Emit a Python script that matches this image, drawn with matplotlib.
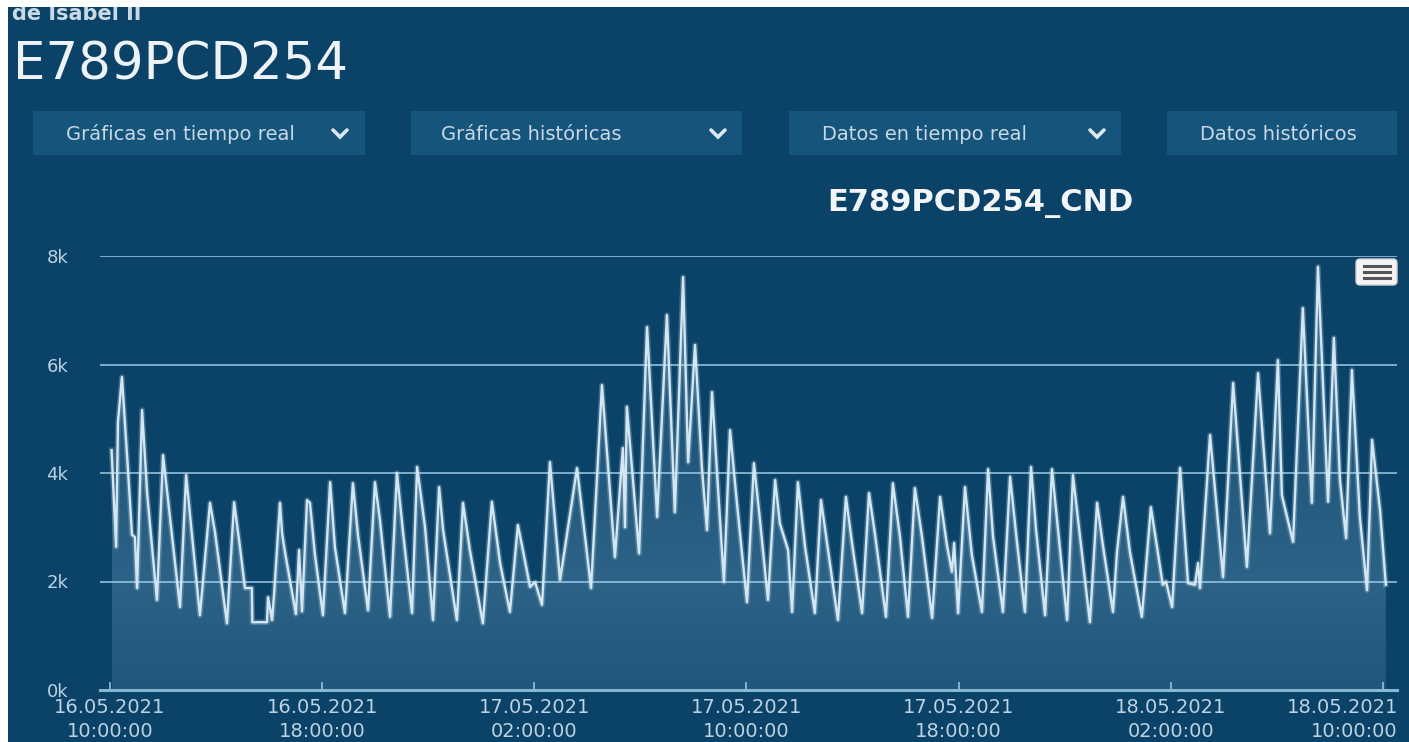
import numpy as np
import matplotlib
matplotlib.use("Agg")
import matplotlib.pyplot as plt
from matplotlib.patches import Rectangle, FancyBboxPatch
from matplotlib.transforms import ScaledTranslation
from datetime import datetime, timedelta

# Series: hours since 16.05.2021 10:00:00 and conductivity value
hours = [0.06, 0.23, 0.30, 0.45, 0.68, 0.83, 0.94, 1.02, 1.21, 1.40, 1.77, 2.00, 2.19, 2.64,
         2.87, 3.39, 3.77, 3.96, 4.41, 4.68, 4.90, 5.09, 5.35, 5.37, 5.92, 5.96, 6.11, 6.18,
         6.41, 6.49, 6.60, 7.01, 7.13, 7.24, 7.43, 7.54, 7.73, 8.03, 8.30, 8.48, 8.86, 9.16,
         9.35, 9.73, 9.99, 10.18, 10.56, 10.82, 11.05, 11.39, 11.58, 11.88, 12.18, 12.41,
         12.56, 13.08, 13.31, 13.57, 14.06, 14.40, 14.71, 15.08, 15.38, 15.57, 15.84, 16.03,
         16.29, 16.40, 16.59, 16.97, 17.61, 18.14, 18.55, 19.04, 19.34, 19.42, 19.49, 19.95,
         20.25, 20.63, 21.00, 21.30, 21.61, 21.80, 22.06, 22.32, 22.51, 22.70, 23.15, 23.38,
         23.64, 24.02, 24.28, 24.51, 24.81, 25.08, 25.26, 25.57, 25.72, 25.94, 26.21, 26.58,
         26.81, 27.45, 27.75, 27.98, 28.36, 28.62, 28.85, 29.26, 29.52, 29.79, 30.09, 30.35,
         30.62, 31.00, 31.30, 31.56, 31.75, 31.83, 31.98, 32.24, 32.50, 32.88, 33.11, 33.30,
         33.67, 33.94, 34.20, 34.50, 34.73, 34.92, 35.26, 35.52, 36.09, 36.31, 36.95, 37.22,
         37.44, 37.82, 37.97, 38.20, 38.46, 38.91, 39.25, 39.70, 39.82, 40.05, 40.35, 40.65,
         40.91, 41.03, 41.10, 41.48, 41.97, 42.35, 42.87, 43.29, 43.74, 44.04, 44.19, 44.61,
         44.98, 45.32, 45.55, 45.93, 46.15, 46.38, 46.61, 46.83, 47.13, 47.40, 47.59, 47.89,
         48.11]
values = [4420, 2640, 4940, 5770, 4050, 2860, 2820, 1880, 5160, 3630, 1660, 4330, 3500, 1530,
          3960, 1380, 3450, 2910, 1230, 3460, 2640, 1880, 1880, 1250, 1250, 1710, 1290, 1720,
          3450, 2890, 2540, 1400, 2580, 1450, 3500, 3450, 2490, 1380, 3830, 2640, 1420, 3810,
          2860, 1470, 3830, 3130, 1350, 4000, 2910, 1420, 4110, 3000, 1290, 3740,
          2950, 1290, 3450, 2580, 1230, 3470, 2340, 1440, 3040, 2580, 1900, 1990,
          1570, 2520, 4200, 2030, 4090, 1880, 5620, 2450, 4460, 3000, 5220, 2520,
          6690, 3190, 6910, 3280, 7610, 4200, 6360, 4110, 2950, 5490, 1990, 4790,
          3450, 1620, 4180, 3130, 1660, 3870, 3070, 2580, 1440, 3830, 2640, 1420,
          3500, 1290, 3560, 2710, 1420, 3630, 2860, 1350, 3810, 2820, 1350, 3720,
          2820, 1330, 3560, 2670, 2180, 2710, 1420, 3740, 2490, 1440, 4070, 2820,
          1440, 3930, 2730, 1440, 4110, 2950, 1380, 4070, 1290, 3960, 1250, 3450,
          2670, 1440, 2540, 3560, 2540, 1350, 3370, 1940, 2000, 1530, 4090, 1970,
          1940, 2340, 1880, 4700, 2080, 5660, 2270, 5840, 2890, 6080, 3590, 2730,
          7040, 3450, 7800, 3470, 6490, 3870, 2800, 5900, 3190, 1840, 4610, 3320,
          1940]

start = datetime(2021, 5, 16, 10, 0, 0)
tick_hours = [0, 8, 16, 24, 32, 40, 48]
y_ticks = [0, 2000, 4000, 6000, 8000]
y_labels = ["0k", "2k", "4k", "6k", "8k"]
buttons = ["Gráficas en tiempo real", "Gráficas históricas", "Datos en tiempo real", "Datos históricos"]

bg = "#0b4267"
btn_col = "#15547b"
grid_col = "#86b6d3"
txt_col = "#bcd2e2"
line_col = "#d2e7f3"

plt.rcParams['font.family'] = ['DejaVu Sans']

W, H = 1409, 742
fig = plt.figure(figsize=(W / 100, H / 100), dpi=100, facecolor=bg)

# chart axes
ax = fig.add_axes([100 / W, (H - 690) / H, 1297 / W, 434 / H])
ax.set_facecolor("none")
ax.set_xlim(-0.377, 48.53)
ax.set_ylim(0, 8000)
for s in ax.spines.values():
    s.set_visible(False)

ax.set_yticks(y_ticks)
ax.set_yticklabels(y_labels)
ax.tick_params(axis="y", length=0, pad=23, labelsize=13, labelcolor=txt_col)
for g in y_ticks[1:]:
    ax.axhline(g, color=grid_col, lw=1.3, zorder=1)
ax.axhline(0, color=grid_col, lw=2.2, zorder=4, clip_on=False)

ax.set_xticks(tick_hours)
ax.set_xticklabels([(start + timedelta(hours=h)).strftime("%d.%m.%Y\n%H:%M:%S") for h in tick_hours],
                   linespacing=1.3)
ax.tick_params(axis="x", direction="in", length=6, width=1.3, color=grid_col, pad=6,
               labelsize=14, labelcolor=txt_col)
last = ax.get_xticklabels()[-1]
last.set_horizontalalignment("right")
last.set_transform(last.get_transform() + ScaledTranslation(0.15, 0, fig.dpi_scale_trans))

# gradient area under the line
poly = ax.fill_between(hours, values, 0, facecolor="none", edgecolor="none")
n = 256
yy = np.linspace(0, 8000, n)
alpha = np.interp(yy, [0, 2000, 5000, 8000], [0.15, 0.24, 0.14, 0.05])
img = np.zeros((n, 2, 4))
img[:, :, 0] = 0.60
img[:, :, 1] = 0.80
img[:, :, 2] = 0.93
img[:, :, 3] = alpha[:, None]
im = ax.imshow(img, origin="lower", aspect="auto", extent=[hours[0], hours[-1], 0, 8000],
               zorder=2, interpolation="bilinear")
im.set_clip_path(poly.get_paths()[0], transform=ax.transData)
ax.set_xlim(-0.377, 48.53)
ax.set_ylim(0, 8000)

ax.plot(hours, values, color=line_col, lw=4, alpha=0.25, zorder=3, solid_joinstyle="round")
ax.plot(hours, values, color=line_col, lw=1.7, zorder=3, solid_joinstyle="round")

# page decoration in pixel coordinates
deco = fig.add_axes([0, 0, 1, 1], zorder=5)
deco.set_xlim(0, W)
deco.set_ylim(H, 0)
deco.axis("off")
deco.patch.set_alpha(0)

deco.text(12, 20, "de Isabel II", fontsize=15, fontweight="bold", color="#c9d9e6", va="baseline")
deco.text(13, 79, "E789PCD254", fontsize=37, color="#eef3f7", va="baseline")

btn_x = [33, 411, 789, 1167]
btn_w = [332, 331, 332, 230]
txt_x = [66, 441, 822, 1200]
for bx, bw, tx, label in zip(btn_x, btn_w, txt_x, buttons):
    deco.add_patch(Rectangle((bx, 111), bw, 44, facecolor=btn_col, edgecolor="none"))
    deco.text(tx, 134, label, fontsize=14, color="#c8d8e5", va="center")
for cx in [340, 718, 1097]:
    deco.plot([cx - 7, cx, cx + 7], [130, 137, 130], color="#dde8f0", lw=2.6,
              solid_capstyle="round", solid_joinstyle="miter")

deco.text(980, 204, "E789PCD254_CND", fontsize=22, fontweight="bold", color="#f2f6f9",
          ha="center", va="center")

# export menu icon
deco.add_patch(FancyBboxPatch((1356, 259), 41, 26, boxstyle="round,pad=0,rounding_size=4",
                              facecolor="#f4f4f4", edgecolor="#d0d0d0", lw=1))
for ly in [266, 272, 278]:
    deco.plot([1364, 1390], [ly, ly], color="#555555", lw=2.2)

# white screenshot border
deco.add_patch(Rectangle((0, 0), 8, H, facecolor="white", edgecolor="none", zorder=10))
deco.add_patch(Rectangle((0, 0), W, 7, facecolor="white", edgecolor="none", zorder=10))

fig.savefig("out.png", dpi=100, facecolor=bg)
